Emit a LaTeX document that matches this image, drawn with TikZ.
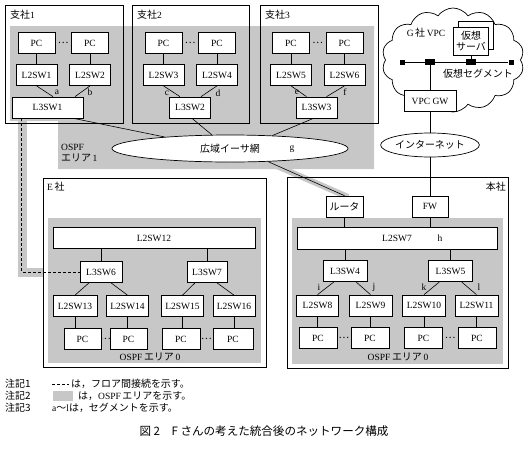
\documentclass[tikz,border=0pt]{standalone}
\usepackage{fontspec}
\setmainfont{Liberation Serif}
\newfontfamily\jp[Scale=1.05]{Noto Sans CJK JP}
\usetikzlibrary{shapes.geometric, shapes.symbols}
\tikzstyle{box} = [rectangle, minimum height=21pt, inner sep=1pt, text centered, draw=black, line width=0.7pt, fill=white, font=\fontsize{9.5}{11}\selectfont]
\tikzstyle{pc} = [box, minimum width=37pt]
\tikzstyle{sw} = [box, minimum width=41pt]
\tikzstyle{netcloud} = [ellipse, inner sep=0pt, draw=black, line width=0.7pt, fill=white, font=\fontsize{9.5}{11}\selectfont]
\tikzstyle{site} = [draw=black, line width=0.7pt]
\tikzstyle{area} = [fill=black!22]
\tikzstyle{band} = [draw=black!22, line width=9pt]
\tikzstyle{link} = [draw=black, line width=0.6pt]
\tikzstyle{tag} = [inner sep=0pt, font=\fontsize{9.5}{11}\selectfont]
\tikzstyle{port} = [rectangle, fill=black, inner sep=0pt, minimum width=6pt, minimum height=6pt]

\begin{document}
\begin{tikzpicture}[x=1pt, y=-1pt, node distance=53.5pt]
\useasboundingbox (0,0) rectangle (528,448);

% OSPF areas
\fill [area] (10,26) -- (374,26) -- (374,169) -- (58,169) -- (58,121) -- (10,121) -- cycle;
\fill [area] (48,218) rectangle (261,363);
\fill [area] (292,218) rectangle (503,364);
\draw [band] (22,118) -- (22,272) -- (43,272);
\draw [band, line width=6pt] (270,163) -- (348,197);

% sites
\draw [site] (5,5) rectangle (123,123);
\draw [site] (132,5) rectangle (249,123);
\draw [site] (260,5) rectangle (378,123);
\draw [site] (43,178) rectangle (266,367);
\draw [site] (287,177) rectangle (508,368);
\node (s1) [tag, anchor=west] at (10,15) {{\jp 支社}1};
\node (s2) [tag, anchor=west] at (137,15) {{\jp 支社}2};
\node (s3) [tag, anchor=west] at (265,15) {{\jp 支社}3};
\node (se) [tag, anchor=west] at (47,187) {E\,{\jp 社}};
\node (sh) [tag, anchor=east] at (506,187) {\jp 本社};
\node (a1) [tag, anchor=north west, align=left] at (61,144) {OSPF\\{\jp エリア}\,1};
\node (a0e) [tag] at (150,357) {OSPF\,{\jp エリア}\,0};
\node (a0h) [tag] at (398,357) {OSPF\,{\jp エリア}\,0};

% branch 1
\node (pc1) [pc] at (36.5,43) {PC};
\node (pc2) [pc, right of=pc1] {PC};
\node (l2sw1) [sw] at (36.5,75) {L2SW1};
\node (l2sw2) [sw, right of=l2sw1] {L2SW2};
\node (l3sw1) [sw, minimum width=71pt] at (47.5,107.5) {L3SW1};
\path (pc1) -- node (d1) [tag] {\jp …} (pc2);
\draw [link] (pc1) -- (l2sw1);
\draw [link] (pc2) -- (l2sw2);
\draw [link] (l2sw1.south) -- ([xshift=5.5pt]l3sw1.north);
\draw [link] (l2sw2.south) -- ([xshift=27.5pt]l3sw1.north);
\node (sa) [tag] at (57,92) {a};
\node (sb) [tag] at (90,92) {b};

% branch 2
\node (pc3) [pc] at (163.5,43) {PC};
\node (pc4) [pc, right of=pc3] {PC};
\node (l2sw3) [sw] at (163.5,75) {L2SW3};
\node (l2sw4) [sw, right of=l2sw3] {L2SW4};
\node (l3sw2) [sw] at (190,107.5) {L3SW2};
\path (pc3) -- node (d2) [tag] {\jp …} (pc4);
\draw [link] (pc3) -- (l2sw3);
\draw [link] (pc4) -- (l2sw4);
\draw [link] (l2sw3.south) -- ([xshift=-10pt]l3sw2.north);
\draw [link] (l2sw4.south) -- ([xshift=11pt]l3sw2.north);
\node (sc) [tag] at (167,93) {c};
\node (sd) [tag] at (218,93) {d};

% branch 3
\node (pc5) [pc] at (291,43) {PC};
\node (pc6) [pc, right of=pc5] {PC};
\node (l2sw5) [sw] at (291,75) {L2SW5};
\node (l2sw6) [sw, right of=l2sw5] {L2SW6};
\node (l3sw3) [sw] at (316.5,107.5) {L3SW3};
\path (pc5) -- node (d3) [tag] {\jp …} (pc6);
\draw [link] (pc5) -- (l2sw5);
\draw [link] (pc6) -- (l2sw6);
\draw [link] (l2sw5.south) -- ([xshift=-10pt]l3sw3.north);
\draw [link] (l2sw6.south) -- ([xshift=10pt]l3sw3.north);
\node (se2) [tag] at (297,92) {e};
\node (sf) [tag] at (345,92) {f};

% wide area ethernet
\node (wan) [netcloud, minimum width=236pt, minimum height=27pt] at (230,148.5) {\jp 広域イーサ網};
\node (sg) [tag] at (292,149) {g};
\draw [link] ([xshift=26pt]l3sw1.south) -- (wan.170);
\draw [link] ([xshift=2pt]l3sw2.south) -- (wan.143);
\draw [link] ([xshift=-3pt]l3sw3.south) -- (wan.17);

% G VPC
\node (vpc) [cloud, draw, line width=0.7pt, cloud puffs=14, cloud puff arc=110, cloud ignores aspect, minimum width=142pt, minimum height=104pt] at (453,60) {};
\node (vpcname) [tag] at (426,33) {G\,{\jp 社}\,VPC};
\node (srvb) [box, minimum width=35pt, minimum height=28pt] at (476,35) {};
\node (srv) [box, minimum width=35pt, minimum height=28pt, align=center, font=\fontsize{9.5}{11}\selectfont\jp] at (471,41) {仮想\\サーバ};
\node (p1) [port, minimum width=5pt, minimum height=5pt] at (402,62) {};
\node (p2) [port, minimum width=10pt] at (430,62) {};
\node (p3) [port, minimum width=10pt] at (471,62) {};
\node (p4) [port, minimum width=5pt, minimum height=5pt] at (511,62) {};
\draw [link] (p1) -- (p4);
\draw [link] (srv) -- (p3);
\node (vseg) [tag] at (478,74) {\jp 仮想セグメント};
\node (vpcgw) [box, minimum width=52pt] at (430,101) {VPC GW};
\draw [link] (p2) -- (vpcgw);

% internet and head office
\node (inet) [netcloud, minimum width=86pt, minimum height=24pt] at (430,145) {\jp インターネット};
\node (fw) [box, minimum width=36pt] at (430,206.5) {FW};
\node (rt) [box, minimum width=37pt] at (344.5,206.5) {\jp ルータ};
\draw [link] (vpcgw) -- (inet);
\draw [link] (inet) -- (fw);
\draw [link] (wan.-19) -- (rt.north);
\node (l2sw7) [box, minimum width=200pt, minimum height=22pt] at (397,238) {L2SW7};
\node (sh2) [tag] at (440,238) {h};
\draw [link] (rt.south) -- (rt.south |- l2sw7.north);
\draw [link] (fw.south) -- (fw.south |- l2sw7.north);
\node (l3sw4) [sw, minimum width=44pt] at (345,271) {L3SW4};
\node (l3sw5) [sw, minimum width=44pt] at (450.5,271) {L3SW5};
\draw [link] (l3sw4.north) -- (l3sw4.north |- l2sw7.south);
\draw [link] (l3sw5.north) -- (l3sw5.north |- l2sw7.south);
\node (l2sw8) [sw, minimum width=42pt] at (317.5,305.5) {L2SW8};
\node (l2sw9) [sw, minimum width=43pt] at (370.5,305.5) {L2SW9};
\node (l2sw10) [sw, minimum width=43pt] at (424,305.5) {L2SW10};
\node (l2sw11) [sw, minimum width=43pt] at (476.5,305.5) {L2SW11};
\draw [link] ([xshift=-11pt]l3sw4.south) -- (l2sw8.north);
\draw [link] ([xshift=11pt]l3sw4.south) -- (l2sw9.north);
\draw [link] ([xshift=-11pt]l3sw5.south) -- (l2sw10.north);
\draw [link] ([xshift=11pt]l3sw5.south) -- (l2sw11.north);
\node (si) [tag] at (319,287) {i};
\node (sj) [tag] at (374,287) {j};
\node (sk) [tag] at (424,287) {k};
\node (sl) [tag] at (479,287) {l};
\node (pc8) [pc, minimum width=38pt] at (318,338) {PC};
\node (pc9) [pc, minimum width=38pt] at (370,338) {PC};
\node (pc10) [pc, minimum width=38pt] at (423.5,338) {PC};
\node (pc11) [pc, minimum width=38pt] at (477,338) {PC};
\path (pc8) -- node (d8) [tag] {\jp …} (pc9);
\path (pc10) -- node (d10) [tag] {\jp …} (pc11);
\draw [link] (l2sw8.south) -- (l2sw8.south |- pc8.north);
\draw [link] (l2sw9.south) -- (l2sw9.south |- pc9.north);
\draw [link] (l2sw10.south) -- (l2sw10.south |- pc10.north);
\draw [link] (l2sw11.south) -- (l2sw11.south |- pc11.north);

% company E
\node (l2sw12) [box, minimum width=202pt] at (154,238) {L2SW12};
\node (l3sw6) [sw, minimum width=42pt] at (101,272) {L3SW6};
\node (l3sw7) [sw, minimum width=40pt] at (207,272) {L3SW7};
\draw [link] (l3sw6.north) -- (l3sw6.north |- l2sw12.south);
\draw [link] (l3sw7.north) -- (l3sw7.north |- l2sw12.south);
\node (l2sw13) [sw, minimum width=44pt] at (75,306) {L2SW13};
\node (l2sw14) [sw, minimum width=42pt] at (127.5,306) {L2SW14};
\node (l2sw15) [sw, minimum width=42pt] at (182.5,306) {L2SW15};
\node (l2sw16) [sw, minimum width=42pt] at (234,306) {L2SW16};
\draw [link] ([xshift=-12pt]l3sw6.south) -- (l2sw13.north);
\draw [link] ([xshift=10pt]l3sw6.south) -- (l2sw14.north);
\draw [link] ([xshift=-12pt]l3sw7.south) -- (l2sw15.north);
\draw [link] ([xshift=10pt]l3sw7.south) -- (l2sw16.north);
\node (pc13) [pc] at (82.5,339) {PC};
\node (pc14) [pc] at (128.5,339) {PC};
\node (pc15) [pc, minimum width=38pt] at (181,339) {PC};
\node (pc16) [pc, minimum width=40pt] at (233,339) {PC};
\path (pc13) -- node (d13) [tag] {\jp …} (pc14);
\path (pc15) -- node (d15) [tag] {\jp …} (pc16);
\draw [link] (l2sw13.south) -- (l2sw13.south |- pc13.north);
\draw [link] (l2sw14.south) -- (l2sw14.south |- pc14.north);
\draw [link] (l2sw15.south) -- (l2sw15.south |- pc15.north);
\draw [link] (l2sw16.south) -- (l2sw16.south |- pc16.north);

% floor link
\draw [link, dash pattern=on 3pt off 2pt] ([xshift=10pt]l3sw1.south west) |- (l3sw6.west);

% notes
\node (n1) [tag, anchor=west] at (5,384) {\jp 注記1};
\coordinate (dl1) at (52,384);
\coordinate (dl2) at (69,384);
\draw [link, dash pattern=on 3pt off 2pt] (dl1) -- (dl2);
\node (n1t) [tag, anchor=west] at (71,384) {\jp は，フロア間接続を示す。};
\node (n2) [tag, anchor=west] at (5,396) {\jp 注記2};
\fill [area] (53,391) rectangle (73,401);
\node (n2t) [tag, anchor=west] at (78,396) {{\jp は，}OSPF\,{\jp エリアを示す。}};
\node (n3) [tag, anchor=west] at (5,408) {\jp 注記3};
\node (n3t) [tag, anchor=west] at (52,408) {a{\jp ～}l{\jp は，セグメントを示す。}};
\node (cap) [font=\fontsize{11}{13}\selectfont\jp] at (264,431) {図 2　F さんの考えた統合後のネットワーク構成};

\end{tikzpicture}
\end{document}
